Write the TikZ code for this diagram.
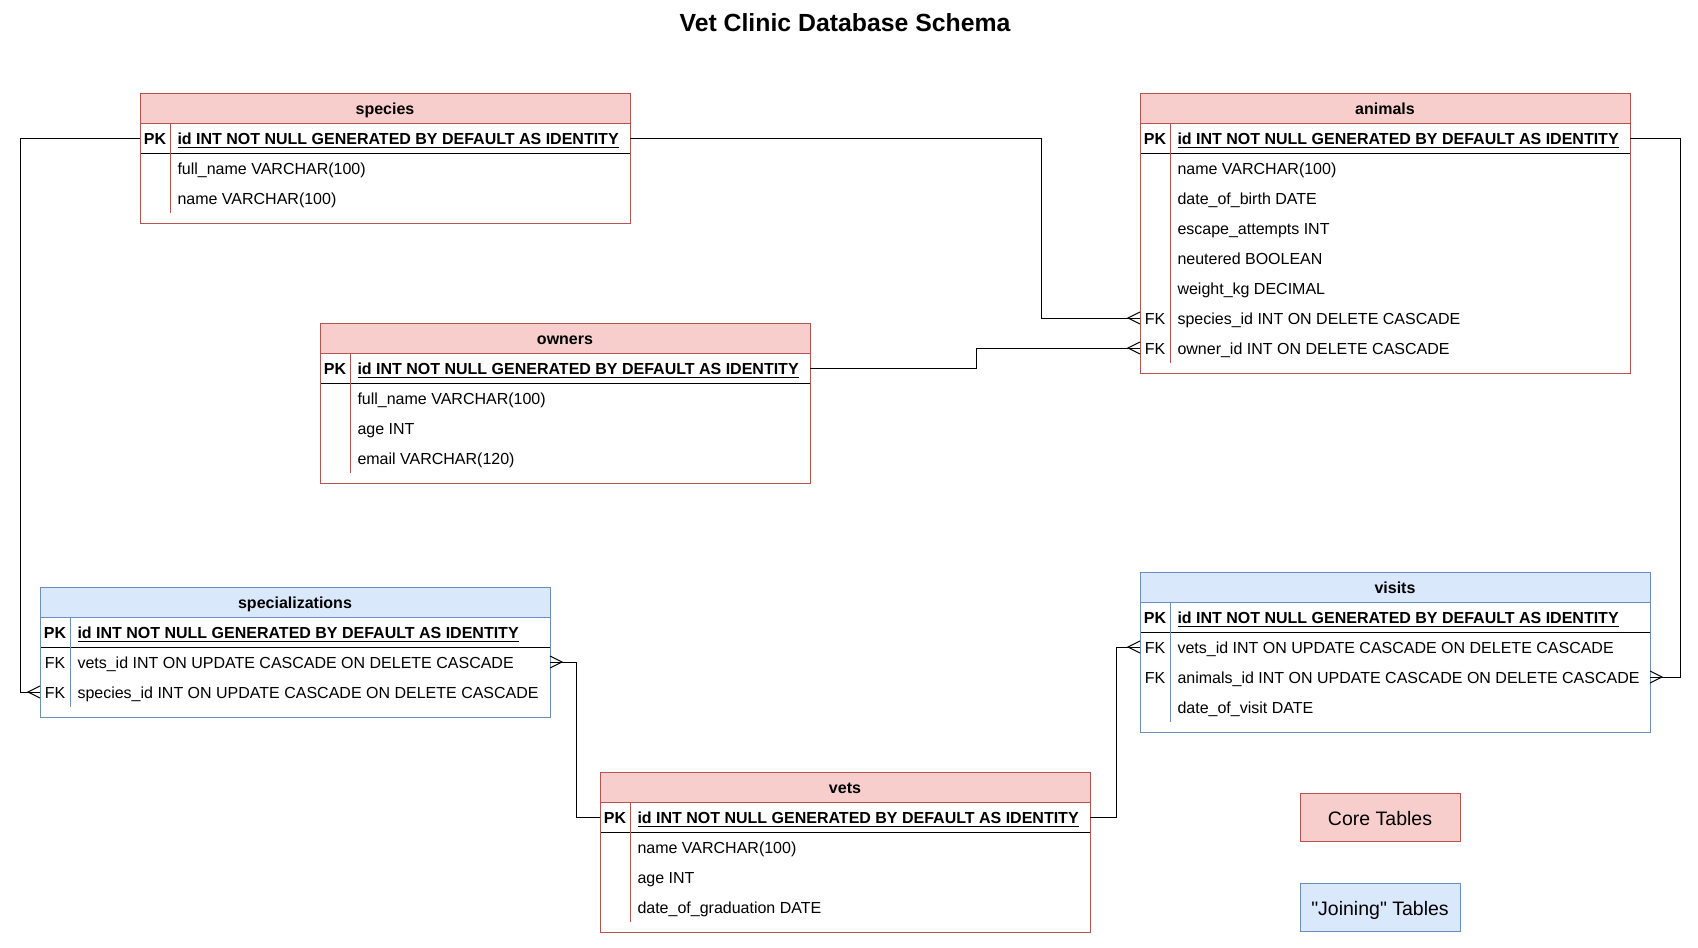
\documentclass[tikz,border=0pt]{standalone}
\usepackage{fontspec}
\setmainfont{Liberation Sans}[Ligatures=TeXOff]
\usepackage{tikz}
\usetikzlibrary{positioning,calc,arrows.meta}

\definecolor{corefill}{HTML}{F8CECC}
\definecolor{coreline}{HTML}{B85450}
\definecolor{joinfill}{HTML}{DAE8FC}
\definecolor{joinline}{HTML}{6C8EBF}

\newcommand{\tabfont}{\fontsize{16}{19}\selectfont}

% crow's foot (many) end
\pgfdeclarearrow{
  name = erMany,
  parameters = {\the\pgfarrowlength,\the\pgfarrowwidth},
  setup code = {
    \pgfarrowssettipend{0pt}
    \pgfarrowssetlineend{0pt}
    \pgfarrowssetbackend{-\pgfarrowlength}
    \pgfarrowssavethe\pgfarrowlength
    \pgfarrowssavethe\pgfarrowwidth
  },
  drawing code = {
    \pgfsetdash{}{0pt}
    \pgfpathmoveto{\pgfqpoint{0pt}{.5\pgfarrowwidth}}
    \pgfpathlineto{\pgfqpoint{-\pgfarrowlength}{0pt}}
    \pgfpathlineto{\pgfqpoint{0pt}{-.5\pgfarrowwidth}}
    \pgfusepathqstroke
  },
  defaults = {length=12pt, width=12pt}
}

\tikzset{
  tab head/.style={minimum height=30pt, inner sep=0pt, outer sep=0pt, text height=13.5pt, text depth=0pt, font=\tabfont\bfseries},
  core head/.style={tab head, draw=coreline, fill=corefill},
  join head/.style={tab head, draw=joinline, fill=joinfill},
  core line/.style={draw=coreline},
  join line/.style={draw=joinline},
  key/.style={minimum width=30pt, minimum height=30pt, inner sep=0pt, outer sep=0pt, text height=13.5pt, text depth=0pt},
  field/.style={minimum height=30pt, inner xsep=7.5pt, inner ysep=0pt, outer sep=0pt, text height=13.5pt, text depth=0pt},
  legend box/.style={minimum width=160pt, minimum height=48pt, inner sep=0pt, text height=16pt, text depth=0pt, font=\fontsize{19.5}{23}\selectfont}
}

% #1 name, #2 core/join, #3 top left, #4 width, #5 title, #6 number of rows, #7 rows key/field
\newcommand{\dbtable}[7]{%
  \node[#2 head, minimum width=#4, anchor=north west] (#1) at #3 {#5};
  \node[key, font=\tabfont\bfseries, anchor=north west] (#1-0) at (#1.south west) {PK};
  \node[field, font=\tabfont\bfseries, right=0pt of #1-0] (#1-id) {id INT NOT NULL GENERATED BY DEFAULT AS IDENTITY};
  \draw[line width=1.4pt] ([xshift=7.5pt, yshift=-2.5pt]#1-id.base west) -- ([xshift=-7.5pt, yshift=-2.5pt]#1-id.base east);
  \foreach \k/\f [count=\i] in {#7} {
    \pgfmathtruncatemacro\j{\i-1}
    \node[key, below=0pt of #1-\j] (#1-\i) {\k};
    \node[field, right=0pt of #1-\i] (#1-\i-f) {\f};
  }
  \draw (#1-0.south west) -- (#1-0.south -| #1.east);
  \draw[#2 line] (#1-0.north east) -- (#1-#6.south east);
  \draw[#2 line] (#1.north west) rectangle ($(#1.east |- #1-#6.south)+(0,-10)$);
}

\begin{document}
\begin{tikzpicture}[x=1pt, y=1pt, font=\tabfont, line width=1pt]
\useasboundingbox (0,0) rectangle (1698,-948);

\node[font=\fontsize{24.8}{29}\selectfont\bfseries] (title) at (845,-23) {Vet Clinic Database Schema};

% core tables
\dbtable{species}{core}{(140,-93)}{490pt}{species}{2}{/full\_name VARCHAR(100), /name VARCHAR(100)}
\dbtable{animals}{core}{(1140,-93)}{490pt}{animals}{7}{/name VARCHAR(100), /date\_of\_birth DATE, /escape\_attempts INT, /neutered BOOLEAN, /weight\_kg DECIMAL, FK/species\_id INT ON DELETE CASCADE, FK/owner\_id INT ON DELETE CASCADE}
\dbtable{owners}{core}{(320,-323)}{490pt}{owners}{3}{/full\_name VARCHAR(100), /age INT, /email VARCHAR(120)}
\dbtable{vets}{core}{(600,-772)}{490pt}{vets}{3}{/name VARCHAR(100), /age INT, /date\_of\_graduation DATE}

% joining tables
\dbtable{specializations}{join}{(40,-587)}{510pt}{specializations}{2}{FK/vets\_id INT ON UPDATE CASCADE ON DELETE CASCADE, FK/species\_id INT ON UPDATE CASCADE ON DELETE CASCADE}
\dbtable{visits}{join}{(1140,-572)}{510pt}{visits}{3}{FK/vets\_id INT ON UPDATE CASCADE ON DELETE CASCADE, FK/animals\_id INT ON UPDATE CASCADE ON DELETE CASCADE, /date\_of\_visit DATE}

% relations
\draw[-{erMany}] (species-0.west) -- ++(-120,0) |- (specializations-2.west);
\draw[-{erMany}] (species-0 -| species.east) -- ++(411,0) |- (animals-6.west);
\draw[-{erMany}] (owners-0 -| owners.east) -- ++(166,0) |- (animals-7.west);
\draw[-{erMany}] (animals-0 -| animals.east) -- ++(50,0) |- (visits-2 -| visits.east);
\draw[-{erMany}] (vets-0.west) -- ++(-24,0) |- (specializations-1 -| specializations.east);
\draw[-{erMany}] (vets-0 -| vets.east) -- ++(26,0) |- (visits-1.west);

% legend
\node[legend box, draw=coreline, fill=corefill] (core) at (1380,-817) {Core Tables};
\node[legend box, draw=joinline, fill=joinfill] (join) at (1380,-907) {"Joining" Tables};
\end{tikzpicture}
\end{document}
